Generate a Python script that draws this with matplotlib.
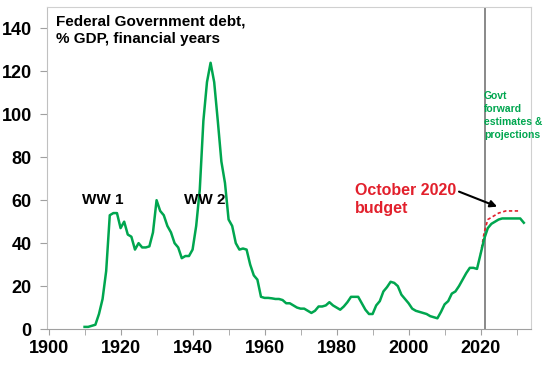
import numpy as np
import matplotlib
matplotlib.use('Agg')
import matplotlib.pyplot as plt

plt.rcParams['font.family'] = ['Liberation Sans', 'DejaVu Sans']
plt.rcParams['font.weight'] = 'bold'

GREEN = '#00A64F'
RED = '#E2202C'

years = list(range(1910, 2033))
debt = [1, 1, 1.5, 2, 7, 14, 27, 53, 54, 54,
        47, 50, 44, 43, 37, 40, 38, 38, 38.5, 45,
        60, 55, 53, 48, 45, 40, 38, 33, 34, 34,
        37, 48, 65, 97, 115, 124, 115, 97, 78, 68,
        51, 48, 40, 37, 37.5, 37, 30, 25, 23, 15,
        14.5, 14.5, 14.3, 14, 14, 13.5, 12, 12, 11, 10,
        9.5, 9.5, 8.5, 7.5, 8.5, 10.5, 10.5, 11, 12.5, 11,
        10, 9, 10.5, 12.5, 15, 15, 15, 12, 9, 7,
        7, 11, 13, 17.5, 19.5, 22, 21.5, 20, 16, 14,
        12, 9.5, 8.5, 8, 7.5, 7, 6, 5.5, 5, 8,
        11.5, 13, 16.5, 17.5, 20, 23, 26, 28.5, 28.5, 28,
        35, 42, 47, 49, 50, 51, 51.5, 51.5, 51.5, 51.5,
        51.5, 51.5, 49.5]

# October 2020 budget projection
budget_years = list(range(2020, 2032))
budget = [35, 45, 51, 52, 53, 54, 54.5, 55, 55, 55, 55, 55]

fig = plt.figure(figsize=(5.48, 3.66), dpi=100)
ax = fig.add_axes([0.086, 0.101, 0.883, 0.880])

ax.plot(years, debt, color=GREEN, lw=1.8, zorder=3)
ax.plot(budget_years, budget, color=RED, lw=1.2, ls=(0, (2, 1.5)), zorder=2)
ax.axvline(2021.2, color='#808080', lw=1.3, zorder=1)

ax.set_xlim(1899.6, 2034)
ax.set_ylim(0, 150)
ax.set_xticks(range(1900, 2031, 10), minor=True)
ax.set_xticks(range(1900, 2021, 20))
ax.set_yticks(range(0, 141, 20))
ax.tick_params(axis='both', which='both', direction='out', color='#A0A0A0', length=4)
ax.tick_params(axis='x', which='major', labelsize=13, pad=4)
ax.tick_params(axis='y', labelsize=13, pad=6, length=5)
for s in ax.spines.values():
    s.set_color('#D0D0D0')
ax.spines['bottom'].set_color('#A0A0A0')
ax.spines['left'].set_color('#C0C0C0')

ax.text(1902, 146.5, 'Federal Government debt,\n% GDP, financial years',
        fontsize=11, fontweight='bold', va='top', ha='left', linespacing=1.35)
ax.text(1915, 60, 'WW 1', fontsize=11, fontweight='bold', ha='center', va='center')
ax.text(1943.5, 60, 'WW 2', fontsize=11, fontweight='bold', ha='center', va='center')
ax.text(1985, 68, 'October 2020\nbudget', color=RED, fontsize=11.5,
        fontweight='bold', ha='left', va='top', linespacing=1.25)
ax.text(2020.9, 111, 'Govt\nforward\nestimates &\nprojections', color=GREEN,
        fontsize=7.5, fontweight='bold', ha='left', va='top', linespacing=1.4)
ax.annotate('', xy=(2024.6, 57), xytext=(2014, 64),
            arrowprops=dict(arrowstyle='-|>', color='black', lw=1.5,
                            mutation_scale=10, shrinkA=0, shrinkB=0))

fig.savefig('out.png', dpi=100)
